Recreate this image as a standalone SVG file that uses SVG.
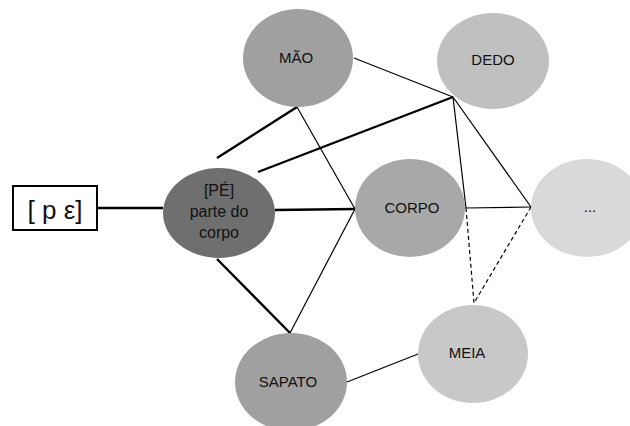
<svg xmlns="http://www.w3.org/2000/svg" width="630" height="426" viewBox="0 0 630 426">
  <style>
    .lbl { font-family: "Liberation Sans", Arial, sans-serif; font-size: 15px; fill: #111; text-anchor: middle; }
    .big { font-size: 16px; }
    .thin { stroke: #000; stroke-width: 1.2; fill: none; }
    .thick { stroke: #000; stroke-width: 2.4; fill: none; }
    .dash { stroke: #000; stroke-width: 1.2; fill: none; stroke-dasharray: 4 3; }
  </style>
  <rect width="630" height="426" fill="#ffffff"/>

  <!-- connectors -->
  <g id="connectors">
    <line class="thick" x1="97" y1="208" x2="163" y2="208"/>
    <line class="thick" x1="217" y1="158" x2="297" y2="107"/>
    <line class="thick" x1="217" y1="259" x2="290" y2="333"/>
    <line class="thick" x1="275" y1="210" x2="355" y2="209"/>
    <line class="thick" x1="258" y1="172" x2="453" y2="97"/>
    <line class="thin" x1="297" y1="107" x2="355" y2="209"/>
    <line class="thin" x1="355" y1="209" x2="290" y2="333"/>
    <line class="thin" x1="354" y1="58" x2="453" y2="97"/>
    <line class="thin" x1="453" y1="97" x2="466" y2="208"/>
    <line class="thin" x1="453" y1="97" x2="531" y2="207"/>
    <line class="thin" x1="466" y1="208" x2="531" y2="207"/>
    <line class="dash" x1="466" y1="208" x2="474" y2="303"/>
    <line class="dash" x1="531" y1="207" x2="474" y2="303"/>
    <line class="thin" x1="347" y1="382" x2="418" y2="354"/>
  </g>

  <!-- phonetic form -->
  <g id="node-pe-phon">
    <rect x="13" y="186" width="84" height="44" fill="#fff" stroke="#000" stroke-width="2"/>
    <text x="55" y="219" font-family="Liberation Sans, Arial, sans-serif" font-size="26" text-anchor="middle" fill="#111">[ p ε]</text>
  </g>

  <g id="node-pe">
    <ellipse cx="219" cy="213" rx="56" ry="45" fill="#6f6f6f"/>
    <text class="lbl big" x="219" y="196">[PÉ]</text>
    <text class="lbl big" x="219" y="217">parte do</text>
    <text class="lbl big" x="219" y="238">corpo</text>
  </g>

  <g id="node-mao">
    <ellipse cx="298" cy="58" rx="55" ry="49" fill="#a0a0a0"/>
    <text class="lbl" x="296" y="63">MÃO</text>
  </g>

  <g id="node-dedo">
    <ellipse cx="493" cy="61" rx="56" ry="48" fill="#c0c0c0"/>
    <text class="lbl" x="493" y="65">DEDO</text>
  </g>

  <g id="node-corpo">
    <ellipse cx="410" cy="208" rx="55" ry="49" fill="#a8a8a8"/>
    <text class="lbl" x="412" y="213">CORPO</text>
  </g>

  <g id="node-more">
    <ellipse cx="587" cy="208" rx="56" ry="49" fill="#d9d9d9"/>
    <text class="lbl" x="590" y="212">...</text>
  </g>

  <g id="node-meia">
    <ellipse cx="473" cy="354" rx="55" ry="49" fill="#c8c8c8"/>
    <text class="lbl" x="467" y="358">MEIA</text>
  </g>

  <g id="node-sapato">
    <ellipse cx="291" cy="382" rx="56" ry="49" fill="#a0a0a0"/>
    <text class="lbl" x="288" y="387">SAPATO</text>
  </g>
</svg>
